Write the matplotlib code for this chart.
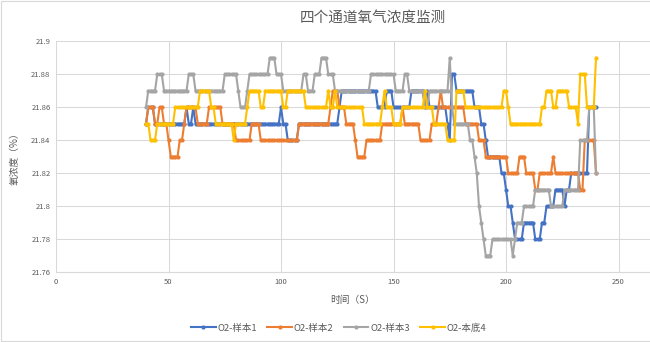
import matplotlib.pyplot as plt
import numpy as np

plt.rcParams['font.family'] = ['Noto Sans CJK SC', 'DejaVu Sans']

# time axis, one reading per second
t_start = 40
t_end = 240

# run-length data: value, how many seconds it holds
s1_vals = [21.85, 21.86, 21.85, 21.86, 21.85, 21.86, 21.85, 21.86, 21.85, 21.84, 21.85, 21.86,
           21.87, 21.86, 21.87, 21.86, 21.87, 21.86, 21.87, 21.86, 21.85, 21.84, 21.88, 21.87,
           21.86, 21.85, 21.84, 21.83, 21.82, 21.81, 21.80, 21.79, 21.78, 21.79, 21.78, 21.79,
           21.80, 21.81, 21.80, 21.81, 21.82, 21.86]
s1_runs = [1, 3, 14, 1, 2, 1, 38, 1, 2, 5, 18, 1,
           16, 4, 3, 8, 6, 1, 1, 8, 1, 1, 2, 8,
           3, 2, 1, 6, 2, 1, 2, 1, 4, 5, 3, 2,
           4, 4, 1, 2, 8, 4]

s2_vals = [21.85, 21.86, 21.85, 21.86, 21.85, 21.84, 21.83, 21.84, 21.85, 21.86, 21.85, 21.86,
           21.85, 21.84, 21.85, 21.84, 21.85, 21.86, 21.87, 21.86, 21.85, 21.84, 21.83, 21.84,
           21.85, 21.86, 21.85, 21.84, 21.85, 21.86, 21.87, 21.86, 21.85, 21.84, 21.83, 21.82,
           21.83, 21.82, 21.81, 21.82, 21.83, 21.82, 21.81, 21.84, 21.82]
s2_runs = [1, 3, 2, 2, 2, 1, 4, 2, 1, 5, 5, 6,
           6, 7, 4, 17, 14, 1, 3, 3, 4, 1, 4, 7,
           9, 1, 7, 5, 3, 1, 1, 10, 6, 3, 10, 5,
           3, 4, 2, 6, 1, 11, 2, 5, 1]

s3_vals = [21.86, 21.87, 21.88, 21.87, 21.88, 21.87, 21.88, 21.87, 21.86, 21.87, 21.88, 21.89,
           21.88, 21.87, 21.88, 21.87, 21.88, 21.89, 21.88, 21.87, 21.88, 21.87, 21.88, 21.87,
           21.86, 21.87, 21.89, 21.86, 21.85, 21.84, 21.83, 21.82, 21.80, 21.79, 21.78, 21.77,
           21.78, 21.77, 21.78, 21.79, 21.80, 21.81, 21.80, 21.81, 21.84, 21.86, 21.82]
s3_runs = [1, 4, 3, 11, 3, 13, 6, 1, 3, 1, 9, 3,
           3, 9, 2, 3, 3, 3, 3, 16, 11, 4, 2, 7,
           2, 9, 1, 1, 7, 2, 1, 1, 1, 1, 1, 3,
           9, 1, 1, 3, 5, 7, 6, 7, 4, 3, 1]

s4_vals = [21.85, 21.84, 21.85, 21.86, 21.87, 21.86, 21.85, 21.84, 21.85, 21.86, 21.87, 21.86,
           21.87, 21.86, 21.87, 21.86, 21.87, 21.86, 21.87, 21.86, 21.85, 21.86, 21.87, 21.86,
           21.85, 21.86, 21.87, 21.86, 21.85, 21.84, 21.87, 21.86, 21.87, 21.86, 21.85, 21.86,
           21.87, 21.86, 21.87, 21.86, 21.85, 21.88, 21.86, 21.89]
s4_runs = [2, 3, 8, 11, 5, 2, 8, 1, 5, 1, 5, 2,
           8, 2, 8, 10, 1, 2, 1, 12, 8, 1, 1, 3,
           4, 10, 1, 3, 6, 4, 4, 17, 2, 1, 14, 2,
           3, 2, 5, 4, 1, 3, 4, 1]

labels = ['O2-样本1', 'O2-样本2', 'O2-样本3', 'O2-本底4']
colors = ['#4472C4', '#ED7D31', '#A5A5A5', '#FFC000']

t = np.arange(t_start, t_end + 1)
series = [np.repeat(s1_vals, s1_runs), np.repeat(s2_vals, s2_runs),
          np.repeat(s3_vals, s3_runs), np.repeat(s4_vals, s4_runs)]

fig = plt.figure(figsize=(6.5, 3.42), dpi=100)
ax = fig.add_axes([0.0862, 0.2047, 0.9138, 0.6746])

for y, lab, c in zip(series, labels, colors):
    ax.plot(t, y, color=c, lw=1.5, marker='o', markersize=3, markeredgewidth=0, label=lab)

ax.set_xlim(0, 264)
ax.set_ylim(21.76, 21.9)
ax.set_xticks([0, 50, 100, 150, 200, 250])
ax.set_yticks([21.76, 21.78, 21.8, 21.82, 21.84, 21.86, 21.88, 21.9])
ax.set_yticklabels(['21.76', '21.78', '21.8', '21.82', '21.84', '21.86', '21.88', '21.9'])
ax.grid(True, color='#D9D9D9', lw=0.75)
ax.set_axisbelow(True)
for side in ['top', 'right', 'left']:
    ax.spines[side].set_visible(False)
ax.spines['bottom'].set_color('#D9D9D9')
ax.tick_params(length=0, labelsize=5.5, labelcolor='#595959', pad=4)

ax.set_xlabel('时间（S）', fontsize=7, color='#595959', labelpad=7)
ax.set_ylabel('氧浓度（%）', fontsize=7, color='#595959', labelpad=8)
fig.text(0.574, 0.947, '四个通道氧气浓度监测', ha='center', va='center', fontsize=10.5, color='#595959')

ax.legend(loc='center', bbox_to_anchor=(0.476, -0.243), ncol=4, frameon=False, fontsize=6.8,
          handlelength=2.6, columnspacing=1.1, handletextpad=0.2, labelcolor='#595959')

fig.patches.append(plt.Rectangle((0.002, 0.004), 1.2, 0.992, transform=fig.transFigure,
                                 fill=False, edgecolor='#D9D9D9', lw=0.8))

fig.savefig('out.png', dpi=100)
